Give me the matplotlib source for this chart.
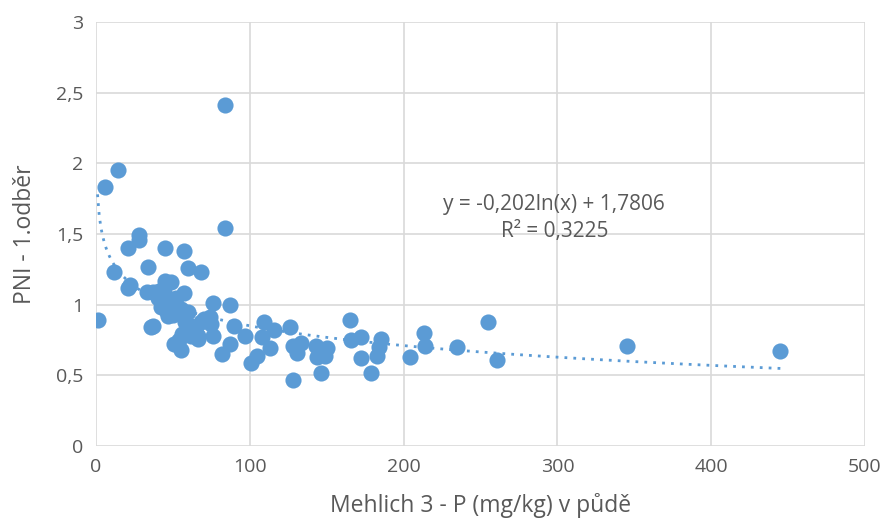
import numpy as np
import matplotlib
matplotlib.use("Agg")
import matplotlib.pyplot as plt

plt.rcParams['font.family'] = ['Open Sans', 'DejaVu Sans']

phosphorus = [1, 6, 14, 12, 21, 21, 22, 28, 28, 34, 33, 37, 36, 37, 45, 57, 60, 68, 45, 49, 57, 76, 87,
              84, 84, 51, 55, 56, 66, 74, 75, 76, 82, 87, 90, 97, 101, 105, 109, 108, 113, 116, 126, 128,
              128, 131, 133, 143, 144, 146, 149, 150, 165, 166, 172, 172, 179, 183, 185, 184, 204, 213,
              214, 235, 255, 261, 345, 445,
              40, 42, 44, 46, 48, 50, 52, 44, 47, 55, 58, 62, 65, 68, 70, 62, 66, 54, 41, 60]
pni = [0.89, 1.83, 1.95, 1.23, 1.40, 1.12, 1.14, 1.49, 1.46, 1.27, 1.09, 1.09, 0.84, 0.85, 1.40, 1.38,
       1.26, 1.23, 1.17, 1.16, 1.08, 1.01, 1.00, 2.41, 1.54, 0.72, 0.68, 0.79, 0.78, 0.91, 0.86, 0.78,
       0.65, 0.72, 0.85, 0.78, 0.59, 0.64, 0.88, 0.77, 0.69, 0.82, 0.84, 0.71, 0.47, 0.66, 0.73, 0.71,
       0.63, 0.52, 0.64, 0.69, 0.89, 0.75, 0.77, 0.62, 0.52, 0.64, 0.76, 0.70, 0.63, 0.80, 0.71, 0.70,
       0.88, 0.61, 0.71, 0.67,
       1.05, 0.98, 1.02, 0.95, 1.00, 0.93, 1.05, 1.09, 0.92, 0.97, 0.88, 0.85, 0.80, 0.88, 0.90, 0.78,
       0.76, 0.75, 1.10, 0.95]

coef_a = -0.202
coef_b = 1.7806
x_ticks = [0, 100, 200, 300, 400, 500]
y_ticks = [0, 0.5, 1, 1.5, 2, 2.5, 3]
y_tick_labels = ['0', '0,5', '1', '1,5', '2', '2,5', '3']

blue = '#5B9BD5'
txt = '#595959'

fig = plt.figure(figsize=(8.87, 5.30), dpi=100)
ax = fig.add_axes([96/887, 1-446/530, (865-96)/887, (446-22)/530])

ax.scatter(phosphorus, pni, s=135, color=blue, zorder=3, linewidths=0)
xt = np.linspace(min(phosphorus), max(phosphorus), 400)
ax.plot(xt, coef_a*np.log(xt) + coef_b, linestyle=(0, (1, 2.2)), color=blue, lw=2, zorder=2)

ax.set_xlim(0, 500)
ax.set_ylim(0, 3)
ax.set_xticks(x_ticks)
ax.set_xticklabels([str(t) for t in x_ticks])
ax.set_yticks(y_ticks)
ax.set_yticklabels(y_tick_labels)
ax.grid(True, color='#D9D9D9', lw=1.2, zorder=0)
ax.set_axisbelow(True)
for s in ax.spines.values():
    s.set_visible(False)
ax.tick_params(length=0, labelsize=14, colors=txt, pad=9)
ax.set_xlabel('Mehlich 3 - P (mg/kg) v půdě', fontsize=16.5, color=txt, labelpad=12)
ax.set_ylabel('PNI - 1.odběr', fontsize=16.5, color=txt, labelpad=14)

ax.text(298, 1.71, 'y = -0,202ln(x) + 1,7806', ha='center', va='center', fontsize=15, color=txt)
ax.text(298, 1.52, 'R² = 0,3225', ha='center', va='center', fontsize=15, color=txt)

fig.savefig('out.png', dpi=100)
